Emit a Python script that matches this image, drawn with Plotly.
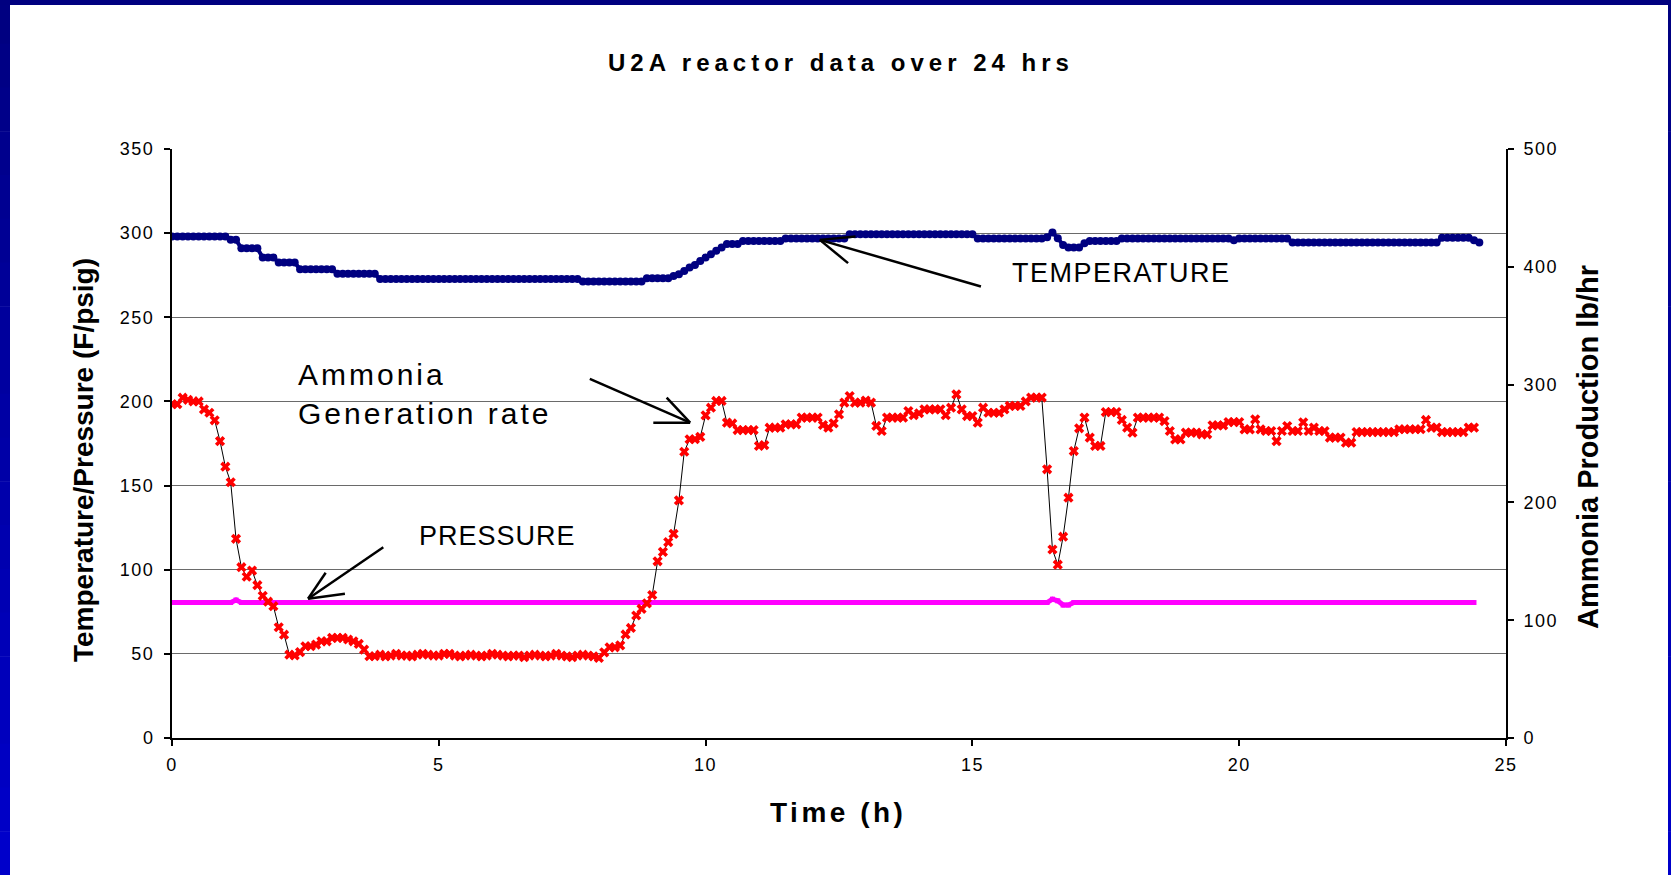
import plotly.graph_objects as go

# ---------------- data ----------------
TIME_H = [round(i * 0.1, 1) for i in range(246)]  # sample grid, hours

TEMPERATURE_F = [
    298, 298, 298, 298, 298, 298, 298, 298, 298, 298,                      # 0.0-0.9
    298, 296, 296, 291, 291, 291, 291, 285.5, 285.5, 285.5,                # 1.0-1.9
    282.5, 282.5, 282.5, 282.5, 278.5, 278.5, 278.5, 278.5, 278.5, 278.5,  # 2.0-2.9
    278.5, 275.8, 275.8, 275.8, 275.8, 275.8, 275.8, 275.8, 275.8, 272.7,  # 3.0-3.9
    272.7, 272.7, 272.7, 272.7, 272.7, 272.7, 272.7, 272.7, 272.7, 272.7,  # 4.0-4.9
    272.7, 272.7, 272.7, 272.7, 272.7, 272.7, 272.7, 272.7, 272.7, 272.7,  # 5.0-5.9
    272.7, 272.7, 272.7, 272.7, 272.7, 272.7, 272.7, 272.7, 272.7, 272.7,  # 6.0-6.9
    272.7, 272.7, 272.7, 272.7, 272.7, 272.7, 272.7, 271.3, 271.3, 271.3,  # 7.0-7.9
    271.3, 271.3, 271.3, 271.3, 271.3, 271.3, 271.3, 271.3, 271.3, 273.2,  # 8.0-8.9
    273.2, 273.2, 273.2, 273.2, 274.5, 275.6, 277.5, 279.6, 281, 283.5,    # 9.0-9.9
    285.5, 287.5, 289.5, 291.5, 293.5, 293.5, 293.5, 295.4, 295.4, 295.4,  # 10.0-10.9
    295.4, 295.4, 295.4, 295.4, 295.4, 296.8, 296.8, 296.8, 296.8, 296.8,  # 11.0-11.9
    296.8, 296.8, 296.8, 296.8, 296.8, 296.8, 296.8, 299.4, 299.4, 299.4,  # 12.0-12.9
    299.4, 299.4, 299.4, 299.4, 299.4, 299.4, 299.4, 299.4, 299.4, 299.4,  # 13.0-13.9
    299.4, 299.4, 299.4, 299.4, 299.4, 299.4, 299.4, 299.4, 299.4, 299.4,  # 14.0-14.9
    299.4, 296.8, 296.8, 296.8, 296.8, 296.8, 296.8, 296.8, 296.8, 296.8,  # 15.0-15.9
    296.8, 296.8, 296.8, 296.8, 297.5, 300.4, 297, 293, 291.5, 291.5,      # 16.0-16.9
    291.5, 294, 295.4, 295.4, 295.4, 295.4, 295.4, 295.4, 296.8, 296.8,    # 17.0-17.9
    296.8, 296.8, 296.8, 296.8, 296.8, 296.8, 296.8, 296.8, 296.8, 296.8,  # 18.0-18.9
    296.8, 296.8, 296.8, 296.8, 296.8, 296.8, 296.8, 296.8, 296.8, 295.8,  # 19.0-19.9
    296.8, 296.8, 296.8, 296.8, 296.8, 296.8, 296.8, 296.8, 296.8, 296.8,  # 20.0-20.9
    294.5, 294.5, 294.5, 294.5, 294.5, 294.5, 294.5, 294.5, 294.5, 294.5,  # 21.0-21.9
    294.5, 294.5, 294.5, 294.5, 294.5, 294.5, 294.5, 294.5, 294.5, 294.5,  # 22.0-22.9
    294.5, 294.5, 294.5, 294.5, 294.5, 294.5, 294.5, 294.5, 297.2, 297.2,  # 23.0-23.9
    297.2, 297.2, 297.2, 297.2, 295.8, 294.4,                              # 24.0-24.5
]

PRESSURE_PSIG = [
    80.5, 80.5, 80.5, 80.5, 80.5, 80.5, 80.5, 80.5, 80.5, 80.5,  # 0.0-0.9
    80.5, 80.5, 82, 80.5, 80.5, 80.5, 80.5, 80.5, 80.5, 80.5,    # 1.0-1.9
    80.5, 80.5, 80.5, 80.5, 80.5, 80.5, 80.5, 80.5, 80.5, 80.5,  # 2.0-2.9
    80.5, 80.5, 80.5, 80.5, 80.5, 80.5, 80.5, 80.5, 80.5, 80.5,  # 3.0-3.9
    80.5, 80.5, 80.5, 80.5, 80.5, 80.5, 80.5, 80.5, 80.5, 80.5,  # 4.0-4.9
    80.5, 80.5, 80.5, 80.5, 80.5, 80.5, 80.5, 80.5, 80.5, 80.5,  # 5.0-5.9
    80.5, 80.5, 80.5, 80.5, 80.5, 80.5, 80.5, 80.5, 80.5, 80.5,  # 6.0-6.9
    80.5, 80.5, 80.5, 80.5, 80.5, 80.5, 80.5, 80.5, 80.5, 80.5,  # 7.0-7.9
    80.5, 80.5, 80.5, 80.5, 80.5, 80.5, 80.5, 80.5, 80.5, 80.5,  # 8.0-8.9
    80.5, 80.5, 80.5, 80.5, 80.5, 80.5, 80.5, 80.5, 80.5, 80.5,  # 9.0-9.9
    80.5, 80.5, 80.5, 80.5, 80.5, 80.5, 80.5, 80.5, 80.5, 80.5,  # 10.0-10.9
    80.5, 80.5, 80.5, 80.5, 80.5, 80.5, 80.5, 80.5, 80.5, 80.5,  # 11.0-11.9
    80.5, 80.5, 80.5, 80.5, 80.5, 80.5, 80.5, 80.5, 80.5, 80.5,  # 12.0-12.9
    80.5, 80.5, 80.5, 80.5, 80.5, 80.5, 80.5, 80.5, 80.5, 80.5,  # 13.0-13.9
    80.5, 80.5, 80.5, 80.5, 80.5, 80.5, 80.5, 80.5, 80.5, 80.5,  # 14.0-14.9
    80.5, 80.5, 80.5, 80.5, 80.5, 80.5, 80.5, 80.5, 80.5, 80.5,  # 15.0-15.9
    80.5, 80.5, 80.5, 80.5, 80.5, 82.5, 81.5, 79, 79, 80.5,      # 16.0-16.9
    80.5, 80.5, 80.5, 80.5, 80.5, 80.5, 80.5, 80.5, 80.5, 80.5,  # 17.0-17.9
    80.5, 80.5, 80.5, 80.5, 80.5, 80.5, 80.5, 80.5, 80.5, 80.5,  # 18.0-18.9
    80.5, 80.5, 80.5, 80.5, 80.5, 80.5, 80.5, 80.5, 80.5, 80.5,  # 19.0-19.9
    80.5, 80.5, 80.5, 80.5, 80.5, 80.5, 80.5, 80.5, 80.5, 80.5,  # 20.0-20.9
    80.5, 80.5, 80.5, 80.5, 80.5, 80.5, 80.5, 80.5, 80.5, 80.5,  # 21.0-21.9
    80.5, 80.5, 80.5, 80.5, 80.5, 80.5, 80.5, 80.5, 80.5, 80.5,  # 22.0-22.9
    80.5, 80.5, 80.5, 80.5, 80.5, 80.5, 80.5, 80.5, 80.5, 80.5,  # 23.0-23.9
    80.5, 80.5, 80.5, 80.5, 80.5,                                # 24.0-24.4
]

AMMONIA_LBHR = [
    283.3, 283.3, 288.9, 287.1, 285.7, 285.7, 279, 276.1, 269.7, 252,        # 0.0-0.9
    230.3, 217.1, 169.1, 145, 136.9, 142.1, 129.7, 120.7, 115.7, 111.9,      # 1.0-1.9
    94, 87.7, 70.7, 70.1, 72.9, 77.9, 77.9, 79.3, 82.1, 82.1,                # 2.0-2.9
    85, 85, 85, 83.6, 82.1, 79.9, 75, 69.4, 69.4, 70.7,                      # 3.0-3.9
    69.3, 70, 71.4, 70, 70, 69.3, 70.7, 71.4, 70.7, 70,                      # 4.0-4.9
    70, 71.4, 71.4, 70, 69.3, 70, 70.7, 70, 69.3, 70,                        # 5.0-5.9
    71.4, 70.7, 70, 69.3, 70, 70, 68.6, 70, 70.7, 70,                        # 6.0-6.9
    69.3, 70, 71.4, 70, 69.3, 68.6, 70, 70.7, 70, 69.3,                      # 7.0-7.9
    68, 72.7, 77, 77, 78.6, 87.9, 93.4, 104, 109.6, 114.3,                   # 8.0-8.9
    121.4, 150, 158, 166.3, 173.3, 201.7, 243, 253.6, 253.6, 255.6,          # 9.0-9.9
    273.9, 280.4, 286.1, 286.1, 267.7, 267, 261.4, 261.4, 261.4, 261.4,      # 10.0-10.9
    247.9, 248.6, 263.4, 263.4, 263.4, 266.3, 266.3, 266.3, 272, 272,        # 11.0-11.9
    272, 272, 265.7, 263.4, 267.1, 274.7, 284.7, 290.3, 284.7, 284.7,        # 12.0-12.9
    286.4, 284.7, 264.9, 260.6, 272, 272, 272, 272, 277.6, 274,              # 13.0-13.9
    275.7, 279, 279, 279, 279, 274, 280.4, 291.7, 279, 273.3,                # 14.0-14.9
    273.3, 267.7, 280.4, 276.1, 276.1, 276.1, 279, 281.9, 281.9, 281.9,      # 15.0-15.9
    285.7, 289, 289, 289, 228.1, 160, 147.1, 170.9, 204, 243.6,              # 16.0-16.9
    262.9, 272, 255, 247.9, 247.9, 276.7, 276.7, 276.7, 270, 263.5,          # 17.0-17.9
    259.2, 272, 272, 272, 272, 272, 269, 260.6, 253.5, 253.5,                # 18.0-18.9
    259.2, 259.2, 259.2, 257.8, 257.8, 265.4, 265.4, 265.4, 268.2, 268.2,    # 19.0-19.9
    268.2, 262, 262, 270.5, 262, 260.6, 260.6, 252, 260.6, 264.8,            # 20.0-20.9
    260.6, 260.6, 268, 260.6, 263.5, 260.6, 260.6, 255, 255, 255,            # 21.0-21.9
    250.7, 250.7, 259.7, 259.7, 259.7, 259.7, 259.7, 259.7, 259.7, 259.7,    # 22.0-22.9
    262.1, 262.1, 262.1, 262.1, 262.1, 270, 263.5, 263.5, 259.7, 259.7,      # 23.0-23.9
    259.7, 259.7, 259.7, 263.5, 263.5,                                       # 24.0-24.4
]

X_TICKS = [0, 5, 10, 15, 20, 25]
Y_TICKS = [0, 50, 100, 150, 200, 250, 300, 350]
Y2_TICKS = [0, 100, 200, 300, 400, 500]

TITLE = "U2A reactor data over 24 hrs"
X_TITLE = "Time (h)"
Y_TITLE = "Temperature/Pressure (F/psig)"
Y2_TITLE = "Ammonia Production lb/hr"
LABEL_AMMONIA = ["Ammonia", "Generation rate"]
LABEL_PRESSURE = "PRESSURE"
LABEL_TEMPERATURE = "TEMPERATURE"

# ---------------- layout geometry ----------------
W, H = 1671, 875
ML, MR, MT, MB = 172, 165, 149, 137
PW, PH = W - ML - MR, H - MT - MB
FONT = "Liberation Sans, Arial, sans-serif"


def px_x(px):
    return (px - ML) / PW


def px_y(py):
    return (H - MB - py) / PH


def spaced(text, sp):
    return f"<span style='letter-spacing:{sp}px'>{text}</span>"


fig = go.Figure()

fig.add_trace(go.Scatter(
    x=TIME_H[:len(TEMPERATURE_F)], y=TEMPERATURE_F, mode="lines+markers",
    line=dict(color="#000080", width=4),
    marker=dict(symbol="circle", size=8, color="#000080"),
    name="Temperature", yaxis="y"))

fig.add_trace(go.Scatter(
    x=TIME_H[:len(PRESSURE_PSIG)], y=PRESSURE_PSIG, mode="lines+markers",
    line=dict(color="#FF00FF", width=5),
    marker=dict(symbol="square", size=5, color="#FF00FF"),
    name="Pressure", yaxis="y"))

fig.add_trace(go.Scatter(
    x=TIME_H[:len(AMMONIA_LBHR)], y=AMMONIA_LBHR, mode="lines+markers",
    line=dict(color="#000000", width=1),
    marker=dict(symbol="x", size=9, color="#FF0000", line=dict(width=0)),
    name="Ammonia", yaxis="y2"))

shapes = []
# slide frame
N = 20
for i in range(N):
    y0 = H * i / N
    y1 = H * (i + 1) / N
    b = int(128 + (204 - 128) * (i + 0.5) / N)
    col = f"rgb(0,0,{b})"
    shapes.append(dict(type="rect", xref="paper", yref="paper",
                       x0=px_x(0), x1=px_x(10), y0=px_y(y1 + 0.5), y1=px_y(y0),
                       fillcolor=col, line=dict(width=0), layer="above"))
    shapes.append(dict(type="rect", xref="paper", yref="paper",
                       x0=px_x(W - 3), x1=px_x(W), y0=px_y(y1 + 0.5), y1=px_y(y0),
                       fillcolor=col, line=dict(width=0), layer="above"))
shapes.append(dict(type="rect", xref="paper", yref="paper",
                   x0=px_x(0), x1=px_x(W), y0=px_y(5), y1=px_y(0),
                   fillcolor="#000080", line=dict(width=0), layer="above"))

# white boxes behind labels (cut the gridlines)
shapes.append(dict(type="rect", xref="paper", yref="paper",
                   x0=px_x(286), x1=px_x(567), y0=px_y(428), y1=px_y(356),
                   fillcolor="white", line=dict(width=0), layer="between"))
shapes.append(dict(type="rect", xref="paper", yref="paper",
                   x0=px_x(407), x1=px_x(591), y0=px_y(578), y1=px_y(512),
                   fillcolor="white", line=dict(width=0), layer="between"))

# arrows (open heads) in data coordinates
ARROWS = [
    # (tail, tip, arm1, arm2)
    ((15.16, 268.3), (12.14, 296.0), (12.67, 282.2), (12.81, 298.0)),
    ((7.83, 213.4), (9.71, 187.4), (9.27, 202.3), (9.02, 187.4)),
    ((3.96, 113.4), (2.55, 82.8), (2.88, 98.2), (3.24, 85.7)),
]
for tail, tip, a1, a2 in ARROWS:
    for p in (tail, a1, a2):
        shapes.append(dict(type="line", xref="x", yref="y",
                           x0=p[0], y0=p[1], x1=tip[0], y1=tip[1],
                           line=dict(color="black", width=2.5), layer="above"))

annotations = [
    dict(text=spaced(f"<b>{TITLE}</b>", 5), xref="paper", yref="paper",
         x=px_x(841), y=px_y(62), xanchor="center", yanchor="middle",
         showarrow=False, font=dict(size=24, color="black", family=FONT)),
    dict(text=spaced(f"<b>{X_TITLE}</b>", 3.5), xref="paper", yref="paper",
         x=px_x(838), y=px_y(812), xanchor="center", yanchor="middle",
         showarrow=False, font=dict(size=28, color="black", family=FONT)),
    dict(text=f"<b>{Y_TITLE}</b>", xref="paper", yref="paper",
         x=px_x(83), y=px_y(460), xanchor="center", yanchor="middle",
         textangle=-90, showarrow=False,
         font=dict(size=28, color="black", family=FONT)),
    dict(text=f"<b>{Y2_TITLE}</b>", xref="paper", yref="paper",
         x=px_x(1588), y=px_y(447), xanchor="center", yanchor="middle",
         textangle=-90, showarrow=False,
         font=dict(size=29, color="black", family=FONT)),
    dict(text="<br>".join(spaced(t, 3) for t in LABEL_AMMONIA),
         xref="paper", yref="paper", x=px_x(296), y=px_y(394),
         xanchor="left", yanchor="middle", align="left", showarrow=False,
         font=dict(size=30, color="black", family=FONT)),
    dict(text=spaced(LABEL_PRESSURE, 1), xref="paper", yref="paper",
         x=px_x(417), y=px_y(536), xanchor="left", yanchor="middle",
         showarrow=False, font=dict(size=27, color="black", family=FONT)),
    dict(text=spaced(LABEL_TEMPERATURE, 1.5), xref="paper", yref="paper",
         x=px_x(1010), y=px_y(273), xanchor="left", yanchor="middle",
         showarrow=False, font=dict(size=27, color="black", family=FONT)),
]

axis_common = dict(showline=True, linecolor="black", linewidth=2,
                   ticks="outside", ticklen=6, tickcolor="black", tickwidth=1.5,
                   zeroline=False, tickfont=dict(size=18, color="black", family=FONT))

fig.update_layout(
    width=W, height=H,
    margin=dict(l=ML, r=MR, t=MT, b=MB, autoexpand=False),
    paper_bgcolor="white", plot_bgcolor="white",
    showlegend=False,
    font=dict(family=FONT, color="black"),
    xaxis=dict(range=[0, 25], tickvals=X_TICKS,
               ticktext=[spaced(str(v), 1.5) for v in X_TICKS], showgrid=False,
               ticklabelstandoff=3, **axis_common),
    yaxis=dict(range=[0, 350], tickvals=Y_TICKS,
               ticktext=[spaced(str(v), 1.5) for v in Y_TICKS], showgrid=True,
               gridcolor="#6a6a6a", gridwidth=1, ticklabelstandoff=6,
               **axis_common),
    yaxis2=dict(range=[0, 500], tickvals=Y2_TICKS,
                ticktext=[spaced(str(v), 1.5) for v in Y2_TICKS],
                overlaying="y", side="right",
                showgrid=False, ticklabelstandoff=6, **axis_common),
    shapes=shapes,
    annotations=annotations,
)

fig.write_html("out.html",
               config={"displayModeBar": False},
               post_script="document.body.style.margin='0px';"
                           "document.body.style.overflow='hidden';")
